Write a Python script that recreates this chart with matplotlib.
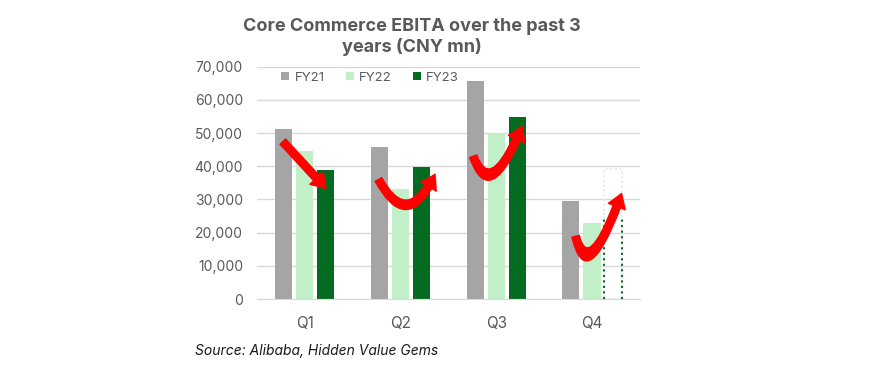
import numpy as np
import matplotlib.pyplot as plt
from matplotlib.patches import FancyArrowPatch
from matplotlib.path import Path

quarters = ["Q1", "Q2", "Q3", "Q4"]
fy21 = [51200, 45800, 65700, 29500]
fy22 = [44600, 33100, 49900, 22900]
fy23 = [38900, 39700, 54800, 39300]  # Q4 FY23 is an estimate (outline only)

# hand-drawn arrows on the original: (start, control, end) in data units
arrows = [
    [(-0.23, 47400), (-0.01, 40600), (0.22, 33300)],
    [(0.77, 36000), (1.075, 20000), (1.36, 37600)],
    [(1.76, 43000), (1.94, 28500), (2.27, 52000)],
    [(2.83, 18900), (2.96, 3500), (3.31, 31800)],
]

plt.rcParams['font.family'] = ['Inter', 'DejaVu Sans']

fig = plt.figure(figsize=(8.74, 3.72), dpi=100)
ax = fig.add_axes([0.294, 0.196, 0.438, 0.625])

x = np.arange(len(quarters))
w = 0.18
ax.bar(x - 0.22, fy21, w, color="#a5a5a5", label="FY21", zorder=2)
ax.bar(x, fy22, w, color="#c1f0c8", label="FY22", zorder=2)
ax.bar(x[:3] + 0.22, fy23[:3], w, color="#056b21", label="FY23", zorder=2)
# Q4 FY23 not reported yet - dotted outline only
ax.bar(x[3] + 0.22, fy23[3], w, facecolor="none", edgecolor="#dfe9e1",
       linestyle=":", linewidth=1.3, zorder=2)
ax.vlines([x[3] + 0.22 - w / 2, x[3] + 0.22 + w / 2], 0, fy23[3] * 0.62,
          colors="#056b21", linestyles=":", linewidth=1.5, zorder=3)

for s, c, e in arrows:
    p = Path([s, c, e], [Path.MOVETO, Path.CURVE3, Path.CURVE3])
    ax.add_patch(FancyArrowPatch(path=p, arrowstyle="simple,head_width=13,head_length=10,tail_width=5.5",
                                 mutation_scale=1, color="#ff0000", zorder=4))

ax.set_xlim(-0.5, 3.5)
ax.set_ylim(0, 70000)
ax.set_yticks(range(0, 70001, 10000))
ax.set_yticklabels([f"{v:,}" for v in range(0, 70001, 10000)])
ax.set_xticks(x)
ax.set_xticklabels(quarters)
ax.tick_params(axis="y", length=0, labelsize=10, colors="#595959", pad=10)
ax.tick_params(axis="x", length=0, labelsize=11, colors="#595959", pad=12)
ax.grid(axis="y", color="#d9d9d9", linewidth=1, zorder=0)
for sp in ["top", "right", "left"]:
    ax.spines[sp].set_visible(False)
ax.spines["bottom"].set_color("#d9d9d9")

ax.legend(loc="upper left", bbox_to_anchor=(0.05, 1.0), ncol=3, frameon=False,
          fontsize=9.5, labelcolor="#595959", handlelength=0.6, handleheight=0.6,
          handletextpad=0.4, columnspacing=1.6, borderaxespad=0.0)

fig.text(0.471, 0.9, "Core Commerce EBITA over the past 3\nyears (CNY mn)", ha="center", va="center",
         fontsize=13, fontweight="bold", color="#595959", linespacing=1.25)
fig.text(0.223, 0.045, "Source: Alibaba, Hidden Value Gems", fontsize=10, style="italic",
         color="#1a1a1a")

fig.savefig("out.png", dpi=100)
